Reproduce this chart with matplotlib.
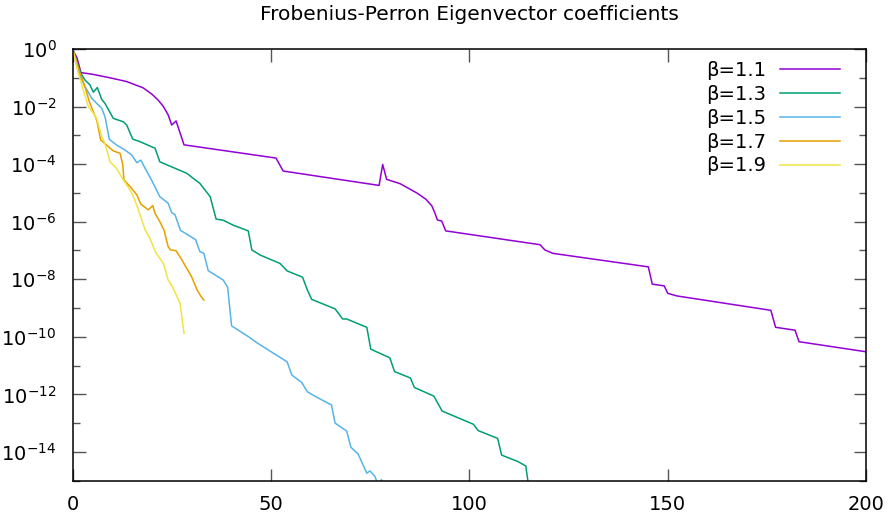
import numpy as np
import matplotlib
matplotlib.use("Agg")
import matplotlib.pyplot as plt
from matplotlib.ticker import FixedLocator, FuncFormatter, NullFormatter

plt.rcParams['mathtext.default'] = 'regular'

# values: index n and log10 of the coefficient
b11_n = [0, 1, 2, 5, 9.3, 13.5, 17.7, 20, 21.5, 22.8, 24.0, 24.9, 26.0, 28.0,
         51.2, 53.0, 77.2, 78.1, 79.1, 82.5, 86.7, 89.0, 90.5, 91.3, 91.9, 93.0,
         94.0, 117.8, 119.0, 121.0, 145.1, 146.1, 149.1, 150.0, 152.3, 176.0,
         177.2, 182.1, 183.1, 200.0]
b11_log = [-0.05, -0.3, -0.82, -0.88, -1.0, -1.13, -1.35, -1.58, -1.78, -2.0,
           -2.29, -2.64, -2.50, -3.33, -3.79, -4.24, -4.74, -4.01, -4.53, -4.68,
           -5.0, -5.22, -5.45, -5.71, -5.94, -5.98, -6.32, -6.80, -6.98, -7.10,
           -7.57, -8.17, -8.23, -8.49, -8.58, -9.08, -9.67, -9.77, -10.17, -10.52]

b13_n = [0, 1.94, 3.03, 4.29, 5.12, 6.13, 7.24, 8.07, 10.16, 12.69, 13.54, 15.06,
         16.9, 20.7, 21.9, 28.7, 32.0, 34.6, 36.1, 37.9, 40.4, 44.2, 45.1, 47.2,
         52.2, 54.0, 57.9, 59.1, 60.2, 66.1, 68.0, 69.0, 74.1, 75.1, 79.9, 81.1,
         85.1, 86.1, 91.0, 93.1, 101.0, 102.2, 107.1, 108.1, 112.3, 114.2, 114.7,
         115.2]
b13_log = [-0.05, -0.84, -1.08, -1.25, -1.50, -1.34, -1.75, -1.89, -2.41, -2.53,
           -2.64, -3.13, -3.22, -3.45, -3.92, -4.32, -4.67, -5.13, -5.91, -5.95,
           -6.12, -6.32, -6.98, -7.16, -7.45, -7.71, -7.93, -8.37, -8.70, -9.03,
           -9.38, -9.38, -9.67, -10.43, -10.73, -11.21, -11.43, -11.76, -12.06,
           -12.58, -13.04, -13.26, -13.53, -14.11, -14.34, -14.49, -14.98, -15.4]

b15_n = [0, 1.34, 3.03, 4.72, 5.98, 7.24, 8.07, 9.16, 11.02, 13.1, 14.8, 16.1,
         17.1, 18.2, 19.8, 21.9, 24.0, 24.9, 25.7, 27.1, 30.9, 32.0, 33.0, 34.1,
         37.9, 39.0, 40.0, 44.4, 46.3, 54.0, 55.2, 57.7, 59.1, 61.5, 65.2, 66.1,
         69.0, 70.1, 71.9, 74.1, 74.9, 76.2, 77.0, 77.8, 78.6]
b15_log = [-0.05, -0.79, -1.31, -1.71, -1.89, -2.06, -2.35, -3.14, -3.34, -3.51,
           -3.68, -3.95, -3.86, -4.15, -4.55, -5.13, -5.36, -5.69, -5.75, -6.30,
           -6.62, -7.04, -7.10, -7.70, -8.03, -8.28, -9.62, -10.01, -10.20,
           -10.87, -11.33, -11.59, -11.91, -12.10, -12.37, -13.0, -13.27, -13.84,
           -14.07, -14.74, -14.66, -14.86, -15.2, -14.96, -15.3]

b17_n = [0, 1.77, 3.03, 4.11, 5.12, 5.98, 6.99, 8.5, 10.16, 11.85, 12.53, 12.86,
         14.4, 16.1, 17.1, 19.0, 20.1, 20.7, 21.9, 22.95, 24.0, 24.6, 26.0, 27.2,
         29.9, 31.3, 32.2, 33.0]
b17_log = [-0.05, -0.84, -1.31, -1.83, -2.18, -2.47, -3.16, -3.34, -3.54, -3.62,
           -4.0, -4.55, -4.78, -5.07, -5.39, -5.59, -5.44, -5.71, -6.0, -6.29,
           -6.87, -6.98, -7.01, -7.27, -7.91, -8.37, -8.58, -8.72]

b19_n = [0, 1.34, 2.6, 3.86, 5.12, 5.98, 7.24, 8.07, 8.5, 9.33, 11.0, 12.7, 14.4,
         15.6, 16.5, 18.2, 19.4, 20.9, 22.8, 24.0, 25.1, 27.0, 28.0]
b19_log = [-0.05, -0.84, -1.42, -2.0, -2.23, -2.41, -3.05, -3.28, -3.51, -3.92,
           -4.15, -4.55, -4.9, -5.25, -5.59, -6.29, -6.58, -7.08, -7.45, -8.03,
           -8.26, -8.84, -9.88]

series = [
    ("β=1.1", b11_n, b11_log, "#9400d3"),
    ("β=1.3", b13_n, b13_log, "#009e73"),
    ("β=1.5", b15_n, b15_log, "#56b4e9"),
    ("β=1.7", b17_n, b17_log, "#e69f00"),
    ("β=1.9", b19_n, b19_log, "#f0e442"),
]

fig = plt.figure(figsize=(8.91, 5.18), dpi=100)
ax = fig.add_axes([73 / 891, 1 - 480.7 / 518, (866 - 73) / 891, (480.7 - 49) / 518])

for label, n, lg, col in series:
  ax.plot(n, 10.0 ** np.array(lg), color=col, lw=1.1, label=label)

ax.set_yscale('log')
ax.set_xlim(0, 200)
ax.set_ylim(1e-15, 1)

ax.xaxis.set_major_locator(FixedLocator([0, 50, 100, 150, 200]))
ax.xaxis.set_minor_locator(FixedLocator([]))
ax.yaxis.set_major_locator(FixedLocator([10.0 ** k for k in range(0, -15, -2)]))
ax.yaxis.set_minor_locator(FixedLocator([10.0 ** k for k in range(-1, -16, -2)]))
ax.yaxis.set_major_formatter(FuncFormatter(lambda v, p: r'$10^{%d}$' % round(np.log10(v))))
ax.yaxis.set_minor_formatter(NullFormatter())

ax.tick_params(which='both', direction='in', top=True, right=True, labelsize=14, color='#555555')
ax.tick_params(which='major', length=9, width=1)
ax.tick_params(which='minor', length=5, width=1)
ax.tick_params(axis='x', pad=10)
ax.tick_params(axis='y', pad=12)
for s in ax.spines.values():
  s.set_linewidth(1.1)

fig.text(469.5 / 891, 1 - 15 / 518, "Frobenius-Perron Eigenvector coefficients",
         fontsize=14.5, ha='center', va='center')

ax.legend(loc='upper right', bbox_to_anchor=(840 / 891, 1 - 61 / 518),
          bbox_transform=fig.transFigure, frameon=False, markerfirst=False,
          fontsize=14, handlelength=3.1, handletextpad=0.7, labelspacing=0.25,
          borderpad=0, borderaxespad=0)

fig.savefig("out.png", dpi=100)
